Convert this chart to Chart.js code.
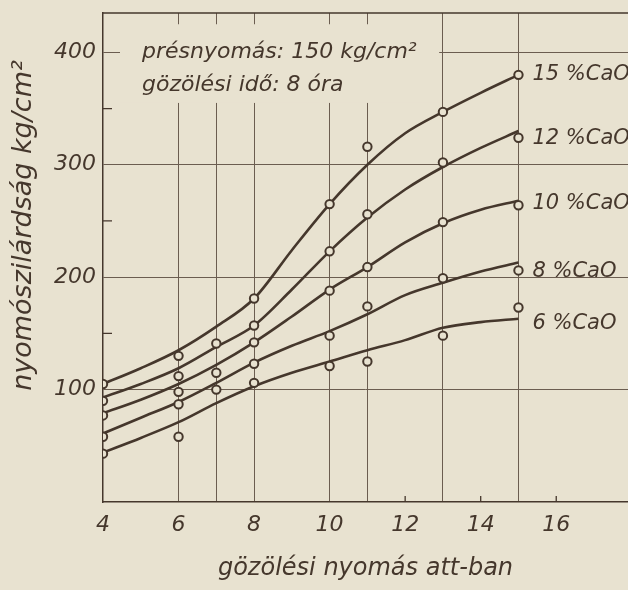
<!DOCTYPE html>
<html>
<head>
<meta charset="utf-8">
<script src="https://cdn.jsdelivr.net/npm/chart.js@4.4.1/dist/chart.umd.min.js"></script>
<style>
  html, body { margin: 0; padding: 0; background: #e8e2d0; }
  #wrap { width: 628px; height: 590px; }
</style>
</head>
<body>
<div id="wrap"><canvas id="c" width="628" height="590"></canvas></div>
<script>
// ---------------- data ----------------
const seriesNames = ['15 %CaO', '12 %CaO', '10 %CaO', '8 %CaO', '6 %CaO'];

// smoothed (fitted) curves
const curveX  = [4, 5, 6, 7, 8, 9, 10, 11, 12, 13, 14, 15];
const curve15 = [105, 119, 135, 156, 181, 224, 265, 300, 328, 347, 364, 380];
const curve12 = [93, 105, 119, 138, 157, 189, 223, 253, 278, 298, 315, 330];
const curve10 = [79, 91, 105, 122, 142, 165, 189, 209, 231, 248, 260, 268];
const curve8  = [61, 75, 89, 106, 124, 139, 152, 167, 184, 195, 205, 213];
const curve6  = [44, 57, 71, 88, 103, 115, 125, 135, 144, 155, 160, 163];

// measured points (open circles)
const pointsX15 = [4, 6, 8, 10, 11, 13, 15];
const points15  = [105, 130, 181, 265, 316, 347, 380];
const pointsX12 = [4, 6, 7, 8, 10, 11, 13, 15];
const points12  = [90, 112, 141, 157, 223, 256, 302, 324];
const pointsX10 = [4, 6, 7, 8, 10, 11, 13, 15];
const points10  = [77, 98, 115, 142, 188, 209, 249, 264];
const pointsX8  = [4, 6, 7, 8, 10, 11, 13, 15];
const points8   = [58, 87, 100, 123, 148, 174, 199, 206];
const pointsX6  = [4, 6, 8, 10, 11, 13, 15];
const points6   = [43, 58, 106, 121, 125, 148, 173];

const xTickLabels = [4, 6, 8, 10, 12, 14, 16];
const xGridValues = [6, 7, 8, 10, 11, 13, 15];
const xMinorTicks = [12, 14, 16];
const yTickLabels = [100, 200, 300, 400];
const yMinorTicks = [150, 250, 350];

const xTitle = 'gözölési nyomás att-ban';
const yTitle = 'nyomószilárdság kg/cm²';
const noteLines = ['présnyomás: 150 kg/cm²', 'gözölési idő: 8 óra'];

// ---------------- style ----------------
const INK = '#45372c';
const GRID = '#6b5d50';
const BG = '#e8e2d0';
const FONT = "'DejaVu Sans', sans-serif";
const labelShift = [0, 8, 3, 9, 5]; // px nudges of the right-hand labels

const curves = [curve15, curve12, curve10, curve8, curve6];
const pts = [[pointsX15, points15], [pointsX12, points12], [pointsX10, points10], [pointsX8, points8], [pointsX6, points6]];

const datasets = [];
pts.forEach(([xs, ys], i) => {
  datasets.push({
    type: 'scatter',
    label: seriesNames[i] + ' mért',
    data: xs.map((x, j) => ({ x: x, y: ys[j] })),
    pointStyle: 'circle',
    pointRadius: 4.2,
    pointBorderWidth: 2,
    pointBorderColor: INK,
    pointBackgroundColor: BG,
    showLine: false,
    order: 0
  });
});
curves.forEach((c, i) => {
  datasets.push({
    type: 'line',
    label: seriesNames[i],
    data: curveX.map((x, j) => ({ x: x, y: c[j] })),
    borderColor: INK,
    borderWidth: 2.6,
    pointRadius: 0,
    fill: false,
    cubicInterpolationMode: 'monotone',
    order: 1
  });
});

const decor = {
  id: 'decor',
  beforeDraw(chart) {
    const ctx = chart.ctx;
    ctx.save();
    ctx.fillStyle = BG;
    ctx.fillRect(0, 0, chart.width, chart.height);
    ctx.restore();
  },
  beforeDatasetsDraw(chart) {
    const { ctx, chartArea: a, scales: { x, y } } = chart;
    ctx.save();
    // top frame line
    ctx.strokeStyle = INK;
    ctx.lineWidth = 1.5;
    ctx.beginPath();
    ctx.moveTo(a.left, a.top);
    ctx.lineTo(a.right, a.top);
    ctx.stroke();
    // minor tick marks
    ctx.lineWidth = 1.3;
    ctx.beginPath();
    yMinorTicks.forEach(v => {
      const py = y.getPixelForValue(v);
      ctx.moveTo(a.left, py); ctx.lineTo(a.left + 9, py);
    });
    xMinorTicks.forEach(v => {
      const px = x.getPixelForValue(v);
      ctx.moveTo(px, a.bottom); ctx.lineTo(px, a.bottom - 6);
    });
    ctx.stroke();
    // blank area behind the note
    const bx0 = x.getPixelForValue(4.45), bx1 = x.getPixelForValue(12.9);
    const by0 = y.getPixelForValue(425), by1 = y.getPixelForValue(355);
    ctx.fillStyle = BG;
    ctx.fillRect(bx0, by0, bx1 - bx0, by1 - by0);
    // note text
    ctx.fillStyle = INK;
    ctx.font = 'italic 22px ' + FONT;
    ctx.textAlign = 'left';
    ctx.textBaseline = 'alphabetic';
    ctx.fillText(noteLines[0], bx0 + 22, y.getPixelForValue(395));
    ctx.fillText(noteLines[1], bx0 + 22, y.getPixelForValue(366));
    // y title
    ctx.save();
    ctx.translate(24, (a.top + a.bottom) / 2 - 32);
    ctx.rotate(-Math.PI / 2);
    ctx.textAlign = 'center';
    ctx.textBaseline = 'middle';
    ctx.font = 'italic 27px ' + FONT;
    ctx.fillText(yTitle, 0, 0);
    ctx.restore();
    ctx.restore();
  },
  afterDatasetsDraw(chart) {
    const { ctx, scales: { x, y } } = chart;
    ctx.save();
    ctx.fillStyle = INK;
    ctx.font = 'italic 21px ' + FONT;
    ctx.textAlign = 'left';
    ctx.textBaseline = 'middle';
    curves.forEach((c, i) => {
      const lx = x.getPixelForValue(curveX[curveX.length - 1]) + 14;
      const ly = y.getPixelForValue(c[c.length - 1]) + labelShift[i];
      ctx.fillText(seriesNames[i], lx, ly);
    });
    ctx.restore();
  }
};

new Chart(document.getElementById('c'), {
  data: { datasets: datasets },
  options: {
    responsive: false,
    animation: false,
    devicePixelRatio: 1,
    layout: { autoPadding: false, padding: { top: 13, right: 0, left: 0, bottom: 0 } },
    plugins: { legend: { display: false }, tooltip: { enabled: false } },
    scales: {
      x: {
        type: 'linear',
        min: 4,
        max: 17.9,
        afterBuildTicks: s => { s.ticks = [4, 6, 7, 8, 10, 11, 12, 13, 14, 15, 16].map(v => ({ value: v })); },
        afterFit: s => { s.height = 88; s.paddingLeft = 0; s.paddingRight = 0; },
        grid: {
          drawTicks: false,
          lineWidth: 1,
          color: c => (c.tick && xGridValues.includes(c.tick.value)) ? GRID : 'rgba(0,0,0,0)'
        },
        border: { display: true, color: INK, width: 1.5 },
        ticks: {
          autoSkip: false,
          maxRotation: 0,
          padding: 10,
          color: INK,
          font: { family: FONT, size: 22, style: 'italic' },
          callback: v => xTickLabels.includes(v) ? String(v) : ''
        },
        title: {
          display: true,
          text: xTitle,
          color: INK,
          font: { family: FONT, size: 24, style: 'italic' },
          padding: { top: 0, bottom: 7 }
        }
      },
      y: {
        type: 'linear',
        min: 0,
        max: 435,
        afterBuildTicks: s => { s.ticks = [100, 150, 200, 250, 300, 350, 400].map(v => ({ value: v })); },
        afterFit: s => { s.width = 103; s.paddingTop = 0; s.paddingBottom = 0; },
        grid: {
          drawTicks: false,
          lineWidth: 1,
          color: c => (c.tick && yTickLabels.includes(c.tick.value)) ? GRID : 'rgba(0,0,0,0)'
        },
        border: { display: true, color: INK, width: 1.5 },
        ticks: {
          padding: 7,
          color: INK,
          font: { family: FONT, size: 22, style: 'italic' },
          callback: v => yTickLabels.includes(v) ? String(v) : ''
        }
      }
    }
  },
  plugins: [decor]
});
</script>
</body>
</html>
